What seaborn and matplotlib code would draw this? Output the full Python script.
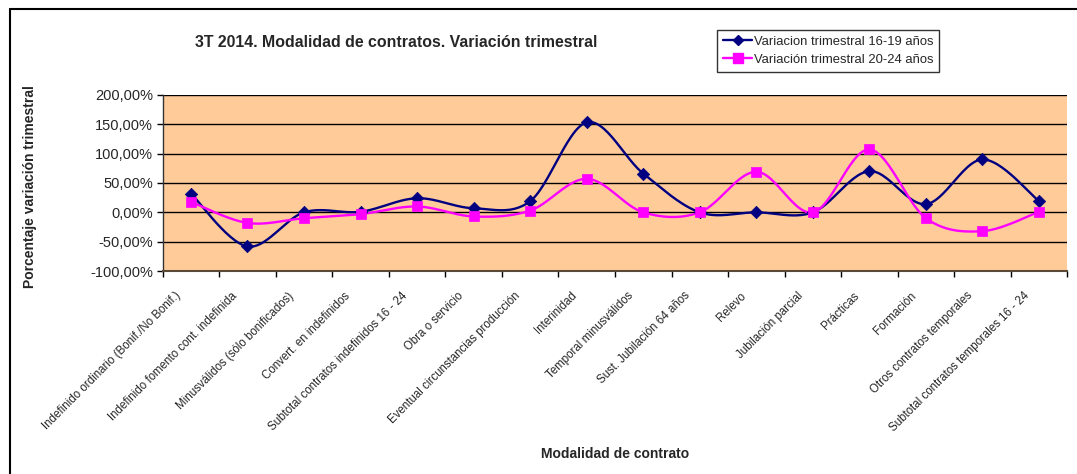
import numpy as np
import pandas as pd
import seaborn as sns
import matplotlib.pyplot as plt
from matplotlib.lines import Line2D
from matplotlib.ticker import FuncFormatter
from matplotlib.transforms import ScaledTranslation

sns.set_style("white")
plt.rcParams["font.family"] = ["Liberation Sans", "DejaVu Sans"]

# Categories (contract types)
categorias = [
    "Indefinido ordinario (Bonif./No Bonif.)",
    "Indefinido fomento cont. indefinida",
    "Minusválidos (sólo bonificados)",
    "Convert. en indefinidos",
    "Subtotal contratos indefinidos 16 - 24",
    "Obra o servicio",
    "Eventual circunstancias producción",
    "Interinidad",
    "Temporal minusválidos",
    "Sust. Jubilación 64 años",
    "Relevo",
    "Jubilación parcial",
    "Prácticas",
    "Formación",
    "Otros contratos temporales",
    "Subtotal contratos temporales 16 - 24",
]

# Quarterly variation (%)
var_16_19 = [32, -58, 0, 1, 24, 7, 19, 153, 66, 0, 0, 0, 70, 14, 90, 19]
var_20_24 = [18, -18, -10, -3, 10, -7, 3, 57, 0, 0, 69, 0, 107, -10, -32, 1]

serie_16_19 = "Variacion trimestral 16-19 años"
serie_20_24 = "Variación trimestral 20-24 años"

df = pd.DataFrame({
    "pos": np.arange(len(categorias)),
    serie_16_19: var_16_19,
    serie_20_24: var_20_24,
})


def smooth(x, y, n=30):
    # Excel-like smoothed line (Catmull-Rom style Bezier segments)
    x = np.asarray(x, float)
    y = np.asarray(y, float)
    px = np.concatenate([[x[0]], x, [x[-1]]])
    py = np.concatenate([[y[0]], y, [y[-1]]])
    t = np.linspace(0, 1, n)[:, None]
    xs, ys = [], []
    for i in range(1, len(px) - 2):
        p0 = np.array([px[i], py[i]])
        p3 = np.array([px[i + 1], py[i + 1]])
        b1 = p0 + (np.array([px[i + 1], py[i + 1]]) - np.array([px[i - 1], py[i - 1]])) / 6
        b2 = p3 - (np.array([px[i + 2], py[i + 2]]) - np.array([px[i], py[i]])) / 6
        pts = ((1 - t) ** 3) * p0 + 3 * ((1 - t) ** 2) * t * b1 + 3 * (1 - t) * t ** 2 * b2 + t ** 3 * p3
        xs.append(pts[:, 0])
        ys.append(pts[:, 1])
    return np.concatenate(xs), np.concatenate(ys)


fig = plt.figure(figsize=(10.77, 4.74), dpi=100)
ax = fig.add_axes([0.151, 0.428, 0.840, 0.372])
ax.set_facecolor("#FFCC99")

navy = "#000080"
magenta = "#FF00FF"

for col, color, marker, ms in [(serie_16_19, navy, "D", 40), (serie_20_24, magenta, "s", 55)]:
    sx, sy = smooth(df["pos"], df[col])
    sns.lineplot(x=sx, y=sy, sort=False, color=color, linewidth=1.7, ax=ax, zorder=3)
    sns.scatterplot(data=df, x="pos", y=col, marker=marker, s=ms, color=color,
                    edgecolor=color, linewidth=0.5, ax=ax, zorder=4)

ax.set_xlim(-0.5, len(categorias) - 0.5)
ax.set_ylim(-100, 200)
ax.set_yticks(np.arange(-100, 201, 50))
ax.yaxis.set_major_formatter(FuncFormatter(lambda v, p: f"{v:.2f}".replace(".", ",") + "%"))
ax.grid(axis="y", color="black", linewidth=1.0)
ax.set_axisbelow(True)

ax.set_xticks(df["pos"])
ax.set_xticks(np.arange(-0.5, len(categorias), 1), minor=True)
ax.tick_params(axis="x", which="major", length=0, pad=12)
ax.tick_params(axis="x", which="minor", length=4, direction="out", color="black", width=1)
ax.tick_params(axis="y", length=4, direction="out", color="black", width=1, labelsize=10.5, pad=3)
ax.yaxis.set_ticks_position("left")
ax.xaxis.set_ticks_position("bottom")
ax.set_xticklabels(categorias, rotation=45, ha="right", va="top", rotation_mode="anchor", fontsize=8.3)
# nudge labels so that their ends sit left of the category centre, as in Excel
shift = ScaledTranslation(-16 / 100, -2 / 100, fig.dpi_scale_trans)
for lbl in ax.get_xticklabels():
    lbl.set_transform(lbl.get_transform() + shift)

for s in ["top", "right"]:
    ax.spines[s].set_visible(False)
ax.spines["left"].set_color("#333333")
ax.spines["bottom"].set_color("#5a4a3a")
ax.spines["left"].set_linewidth(1.0)
ax.spines["bottom"].set_linewidth(1.5)

ax.set_xlabel("")
ax.set_ylabel("")
fig.text(0.368, 0.911, "3T 2014. Modalidad de contratos. Variación trimestral",
         ha="center", va="center", fontsize=11.4, fontweight="bold")
fig.text(0.571, 0.043, "Modalidad de contrato", ha="center", va="center",
         fontsize=10, fontweight="bold")
fig.text(0.028, 0.607, "Porcentaje variación trimestral", ha="center", va="center",
         rotation=90, fontsize=10, fontweight="bold")

handles = [
    Line2D([], [], color=navy, marker="D", markersize=5.5, linewidth=1.7, label=serie_16_19),
    Line2D([], [], color=magenta, marker="s", markersize=6.5, linewidth=1.7, label=serie_20_24),
]
leg = fig.legend(handles=handles, loc="upper left", bbox_to_anchor=(0.666, 0.937),
                 frameon=True, fancybox=False, fontsize=9.4, handlelength=2.2,
                 handletextpad=0.15, borderpad=0.45, labelspacing=0.45, borderaxespad=0)
leg.get_frame().set_edgecolor("black")
leg.get_frame().set_linewidth(1.0)

# Outer chart border (top and left edges visible)
fig.add_artist(Line2D([0.009, 1.0], [0.981, 0.981], transform=fig.transFigure, color="black", linewidth=1.5))
fig.add_artist(Line2D([0.009, 0.009], [0.0, 0.981], transform=fig.transFigure, color="black", linewidth=1.5))

fig.savefig("out.png", dpi=100)
plt.close(fig)
